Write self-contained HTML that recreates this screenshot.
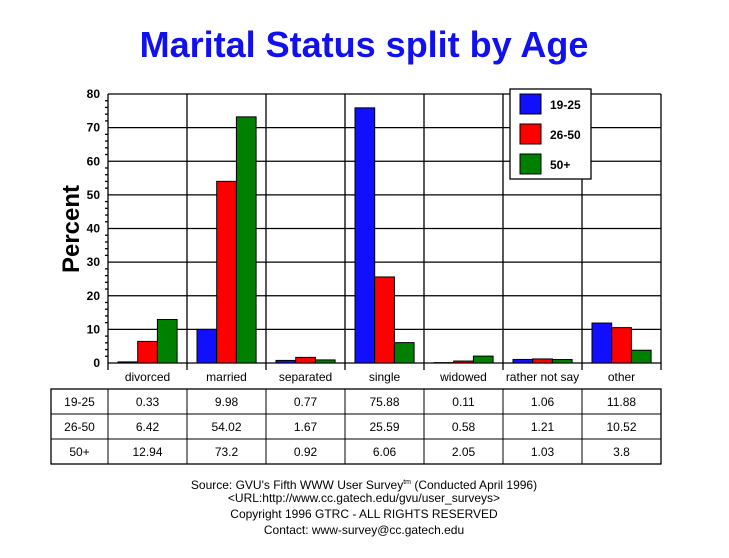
<!DOCTYPE html>
<html><head><meta charset="utf-8"><style>
body{margin:0;background:#fff;width:729px;height:553px;overflow:hidden}
svg text{font-family:"Liberation Sans",Arial,sans-serif}
</style></head><body>
<svg width="729" height="553" xmlns="http://www.w3.org/2000/svg">
<text x="364" y="57" text-anchor="middle" font-size="36" font-weight="bold" fill="#1010f0">Marital Status split by Age</text>
<g id="grid" stroke="#000" stroke-width="1.3"></g>
<g id="bars"></g>
<g id="lbl" font-size="12"></g>
<text transform="translate(79,229) rotate(-90)" text-anchor="middle" font-size="24" font-weight="bold">Percent</text>
<rect x="510" y="89" width="81" height="90" fill="#fff" stroke="#000" stroke-width="1.3"/>
<rect x="520" y="94" width="21" height="20" fill="#1010ff" stroke="#000"/>
<rect x="520" y="124" width="21" height="20" fill="#ff0000" stroke="#000"/>
<rect x="520" y="154" width="21" height="20" fill="#008000" stroke="#000"/>
<text x="550" y="109" font-size="12" font-weight="bold">19-25</text>
<text x="550" y="139" font-size="12" font-weight="bold">26-50</text>
<text x="550" y="169" font-size="12" font-weight="bold">50+</text>
<g id="tbl" font-size="12"></g>
<g font-size="12" text-anchor="middle">
<text x="364" y="489">Source: GVU's Fifth WWW User Survey<tspan font-size="7" dy="-5">tm</tspan><tspan dy="5">  (Conducted April 1996)</tspan></text>
<text x="364" y="502">&lt;URL:http://www.cc.gatech.edu/gvu/user_surveys&gt;</text>
<text x="364" y="518">Copyright 1996 GTRC -  ALL RIGHTS RESERVED</text>
<text x="364" y="534">Contact: www-survey@cc.gatech.edu</text>
</g>
</svg>
<script>
const ns="http://www.w3.org/2000/svg";
function el(p,t,a,txt){const e=document.createElementNS(ns,t);for(const k in a)e.setAttribute(k,a[k]);if(txt!=null)e.textContent=txt;document.getElementById(p).appendChild(e);}
const L=108,R=661,T=94,B=363,W=79,u=(B-T)/80;
for(let v=10;v<=80;v+=10){const y=B-v*u;el("grid","line",{x1:L,x2:R,y1:y,y2:y});el("lbl","text",{x:L-8,y:y+4,"text-anchor":"end","font-weight":"bold"},v);}
el("lbl","text",{x:L-8,y:B+4,"text-anchor":"end","font-weight":"bold"},0);
for(let v=0;v<80;v+=2){const y=B-v*u;if(v%10)el("grid","line",{x1:L-3,x2:L,y1:y,y2:y});}
for(let i=0;i<=7;i++){const x=L+i*W;el("grid","line",{x1:x,x2:x,y1:T,y2:B+7});}
el("grid","line",{x1:L,x2:R,y1:B,y2:B});
const cats=["divorced","married","separated","single","widowed","rather not say","other"];
const d=[[0.33,9.98,0.77,75.88,0.11,1.06,11.88],[6.42,54.02,1.67,25.59,0.58,1.21,10.52],[12.94,73.2,0.92,6.06,2.05,1.03,3.8]];
const col=["#1010ff","#ff0000","#008000"];
for(let i=0;i<7;i++){const x0=L+i*W+10;
 for(let s=0;s<3;s++){const h=d[s][i]*u;el("bars","rect",{x:x0+s*19.7,y:B-h,width:19.7,height:h,fill:col[s],stroke:"#000","stroke-width":1});}
 el("lbl","text",{x:L+i*W+W/2,y:381,"text-anchor":"middle"},cats[i]);}
const tl=51,tt=389,rh=25;
el("tbl","rect",{x:tl,y:tt,width:R-tl,height:rh*3,fill:"none",stroke:"#000","stroke-width":1.3});
for(let r=1;r<3;r++)el("tbl","line",{x1:tl,x2:R,y1:tt+r*rh,y2:tt+r*rh,stroke:"#000"});
for(let i=0;i<7;i++)el("tbl","line",{x1:L+i*W,x2:L+i*W,y1:tt,y2:tt+3*rh,stroke:"#000"});
const rn=["19-25","26-50","50+"];
for(let r=0;r<3;r++){const y=tt+r*rh+17;el("tbl","text",{x:(tl+L)/2,y:y,"text-anchor":"middle"},rn[r]);
 for(let i=0;i<7;i++)el("tbl","text",{x:L+i*W+W/2,y:y,"text-anchor":"middle"},d[r][i]);}
</script>
</body></html>
